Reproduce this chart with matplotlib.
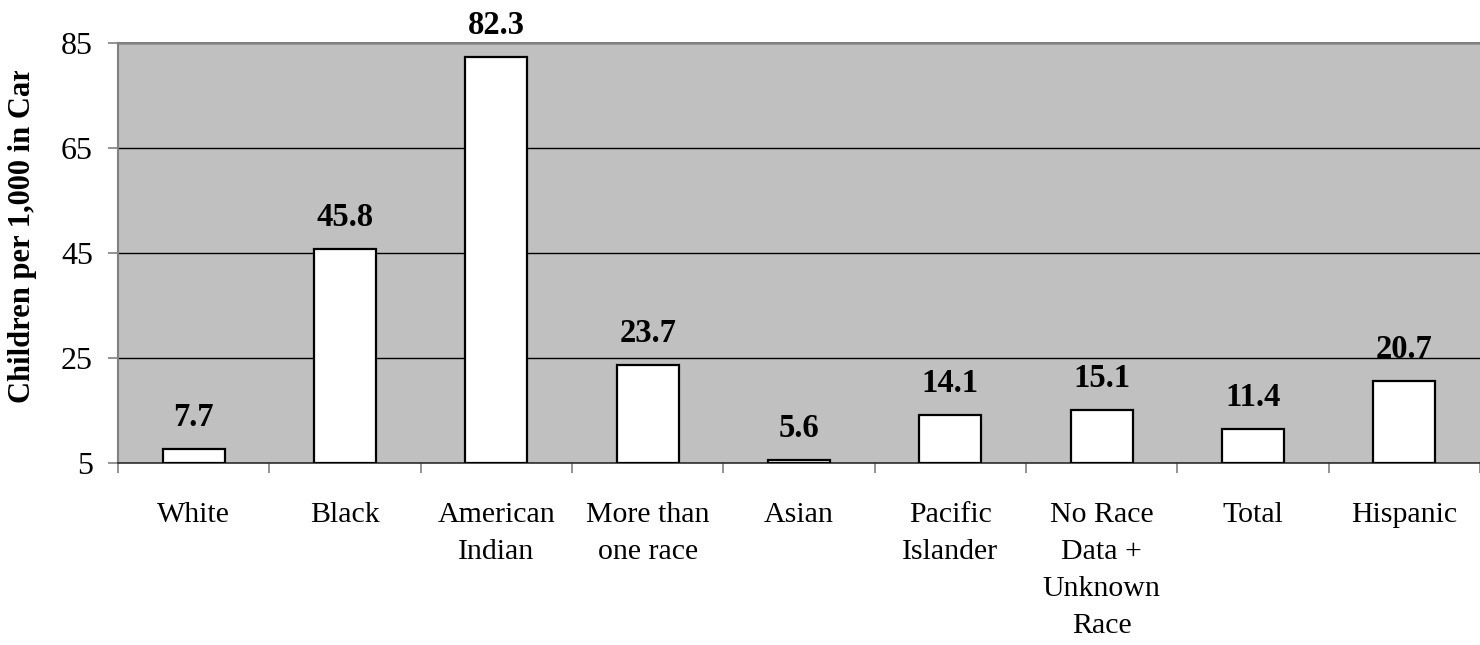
import matplotlib
matplotlib.use("Agg")
import matplotlib.pyplot as plt
from matplotlib.transforms import Bbox

categories = ["White", "Black", "American\nIndian", "More than\none race", "Asian",
              "Pacific\nIslander", "No Race\nData +\nUnknown\nRace", "Total", "Hispanic"]
values = [7.7, 45.8, 82.3, 23.7, 5.6, 14.1, 15.1, 11.4, 20.7]
value_labels = ["7.7", "45.8", "82.3", "23.7", "5.6", "14.1", "15.1", "11.4", "20.7"]
yticks = [5, 25, 45, 65, 85]

plt.rcParams['font.family'] = ['Liberation Serif', 'DejaVu Serif']

W, H = 1480, 645
fig = plt.figure(figsize=(W / 100, H / 100), dpi=100)
ax = fig.add_axes([118 / W, (H - 463) / H, 1.0 - 118 / W, (463 - 43) / H])
ax.set_facecolor("#C0C0C0")

x = list(range(len(categories)))
ax.bar(x, [v - 5 for v in values], bottom=5, width=0.41, color="white",
       edgecolor="black", linewidth=1.6, zorder=3)

for xi, v, lab in zip(x, values, value_labels):
    ax.annotate(lab, (xi, v), xytext=(0, 11.5), textcoords="offset points",
                ha="center", va="bottom", fontsize=23.5, fontweight="bold", zorder=4)

ax.set_xlim(-0.5, len(categories) - 0.5)
ax.set_ylim(5, 85)
ax.set_yticks(yticks)
ax.set_yticklabels([str(t) for t in yticks], fontsize=23)
ax.yaxis.grid(True, color="black", linewidth=1.0, zorder=1)
ax.set_axisbelow(True)

ax.set_xticks([i - 0.5 for i in range(len(categories) + 1)])
ax.set_xticklabels([])
ax.set_xticks(x, minor=True)
ax.set_xticklabels(categories, minor=True, fontsize=21.5, linespacing=1.55, va="top")
ax.tick_params(axis="x", which="major", length=7, color="#808080", width=1.2)
ax.tick_params(axis="x", which="minor", length=0, pad=28)
ax.tick_params(axis="y", length=7, color="#808080", width=1.2, pad=11)

for s in ["left", "top"]:
    ax.spines[s].set_color("#808080")
    ax.spines[s].set_linewidth(1.5)
ax.spines["right"].set_visible(False)
ax.spines["bottom"].set_color("#303030")
ax.spines["bottom"].set_linewidth(1.2)

t = fig.text(23 / W, 1 - 229 / H, "Children per 1,000 in Care", rotation=90,
             ha="center", va="center", fontsize=22, fontweight="bold")
t.set_clip_box(Bbox.from_extents(0, 0, W, H - 71))
t.set_clip_on(True)

fig.savefig("out.png", dpi=100)
